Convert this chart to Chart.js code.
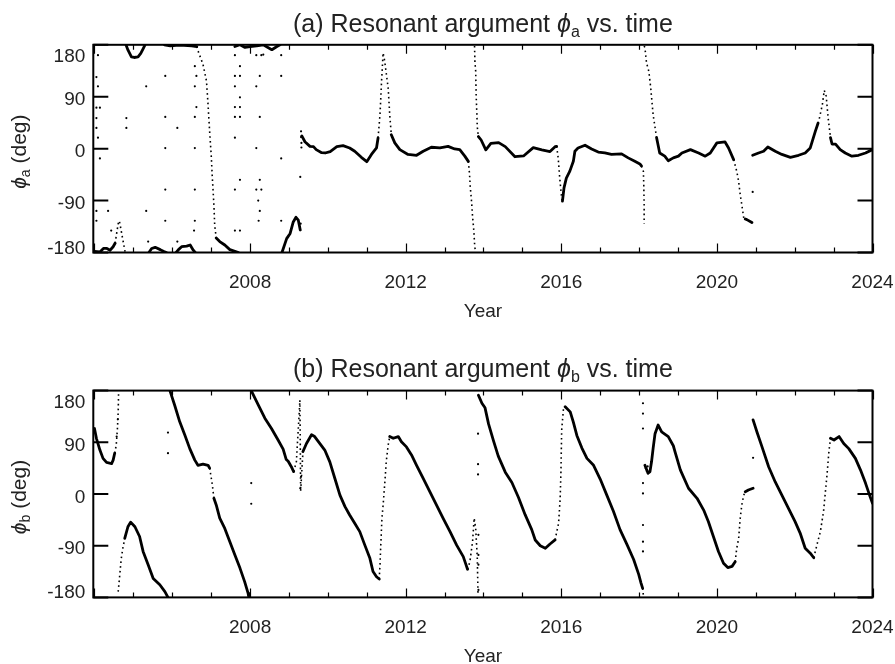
<!DOCTYPE html>
<html>
<head>
<meta charset="utf-8">
<script src="https://cdn.jsdelivr.net/npm/chart.js@4.4.1/dist/chart.umd.min.js"></script>
<style>
  html, body { margin: 0; padding: 0; background: #fff; }
  canvas { display: block; }
</style>
</head>
<body>
<canvas id="chartA" width="895" height="332"></canvas>
<canvas id="chartB" width="895" height="332"></canvas>
<script>
// axis ticks
const xTickLabels = [2008, 2012, 2016, 2020, 2024];
const yTickLabels = [-180, -90, 0, 90, 180];

// panel (a): slow parts of the track, [year, deg]
const aTrack = [
  [[2004.0,-178],[2004.14,-179],[2004.23,-173],[2004.32,-173],[2004.40,-176],[2004.48,-170],[2004.53,-164]],
  [[2004.81,180],[2004.86,171],[2004.95,159],[2005.02,158],[2005.12,159],[2005.19,165],[2005.25,173],[2005.30,180]],
  [[2005.40,-180],[2005.47,-173],[2005.56,-171],[2005.69,-175],[2005.77,-178],[2005.85,-180]],
  [[2005.80,180],[2005.95,178],[2006.10,179],[2006.30,179],[2006.50,178],[2006.63,177]],
  [[2006.10,-180],[2006.16,-175],[2006.24,-170],[2006.37,-169],[2006.46,-167],[2006.54,-176],[2006.59,-180]],
  [[2007.13,-155],[2007.22,-161],[2007.35,-167],[2007.48,-175],[2007.61,-178],[2007.70,-180]],
  [[2007.61,177],[2007.74,180],[2007.87,175.5],[2008.0,177],[2008.17,178],[2008.34,180],[2008.47,175],[2008.56,171.5],[2008.69,177],[2008.77,180]],
  [[2008.82,-180],[2008.94,-156],[2009.03,-147],[2009.11,-127],[2009.18,-119],[2009.24,-124],[2009.29,-141]],
  [[2009.33,22],[2009.41,12],[2009.54,4],[2009.63,3.5],[2009.70,-1.7],[2009.84,-7],[2009.93,-7.5],[2010.06,-5],[2010.23,3.5],[2010.39,5.2],[2010.56,1.2],[2010.69,-4.5],[2010.86,-15],[2011.00,-22.6],[2011.12,-10],[2011.25,1.2],[2011.29,18.6]],
  [[2011.63,24],[2011.72,10],[2011.85,-1.7],[2012.06,-10],[2012.28,-11.5],[2012.45,-4.5],[2012.66,2.4],[2012.88,1.2],[2013.09,4],[2013.26,-0.5],[2013.39,-1.7],[2013.52,-13],[2013.61,-22]],
  [[2013.87,21],[2013.94,15],[2014.06,-2],[2014.19,9],[2014.39,10.4],[2014.56,3.5],[2014.81,-14],[2015.03,-12.7],[2015.28,1.7],[2015.50,-2],[2015.71,-5],[2015.84,3.5],[2015.88,4]],
  [[2016.03,-91],[2016.07,-68],[2016.13,-51],[2016.22,-39],[2016.31,-22],[2016.35,-4.5],[2016.43,1],[2016.61,6],[2016.78,-0.5],[2016.95,-6],[2017.12,-7.5],[2017.29,-10],[2017.55,-9],[2017.72,-16],[2017.89,-22],[2018.02,-26.5],[2018.06,-30]],
  [[2018.45,19],[2018.53,-7.5],[2018.66,-13],[2018.75,-21],[2018.88,-16],[2019.01,-13],[2019.10,-7.5],[2019.32,-1.7],[2019.53,-7.5],[2019.70,-13],[2019.83,-7.5],[2020.00,10],[2020.21,11.6],[2020.30,1.2],[2020.43,-19]],
  [[2020.73,-122],[2020.77,-123],[2020.90,-128]],
  [[2020.92,-11.5],[2021.07,-7.5],[2021.20,-4.5],[2021.31,3],[2021.50,-4.5],[2021.67,-10],[2021.89,-15],[2022.10,-11.5],[2022.27,-7.5],[2022.40,1.2],[2022.53,30],[2022.60,44]],
  [[2022.92,19],[2022.96,8],[2023.05,8],[2023.17,-1.7],[2023.30,-7.5],[2023.47,-13],[2023.64,-11.5],[2023.82,-7.5],[2024.0,-1.7]]
];

// panel (a): fast, sparsely sampled swings
const aSwing = [
  [[2004.53,-164],[2004.57,-147],[2004.61,-130],[2004.64,-125],[2004.70,-147],[2004.79,-180]],
  [[2006.63,177],[2006.66,170],[2006.79,146],[2006.88,117],[2006.92,76],[2006.96,30],[2007.00,-10],[2007.03,-51],[2007.07,-97],[2007.09,-132],[2007.13,-155]],
  [[2011.29,18.6],[2011.34,59],[2011.38,117],[2011.42,166],[2011.46,152],[2011.55,105],[2011.59,59],[2011.63,24]],
  [[2013.61,-22],[2013.64,-43],[2013.66,-66],[2013.69,-89],[2013.72,-118],[2013.75,-141],[2013.77,-164],[2013.79,-178]],
  [[2013.77,178],[2013.78,150],[2013.80,134],[2013.81,96],[2013.83,60],[2013.84,38],[2013.87,21]],
  [[2015.88,4],[2015.92,-16],[2015.96,-51],[2016.01,-86],[2016.03,-91]],
  [[2018.06,-30],[2018.11,-39],[2018.12,-62],[2018.13,-97],[2018.13,-130]],
  [[2018.13,178],[2018.15,175],[2018.19,149],[2018.25,134],[2018.30,105],[2018.36,59],[2018.45,19]],
  [[2020.43,-19],[2020.51,-39],[2020.56,-57],[2020.60,-80],[2020.64,-97],[2020.69,-120],[2020.73,-122]],
  [[2022.60,44],[2022.62,48],[2022.71,76],[2022.76,101],[2022.81,91],[2022.86,53],[2022.92,19]]
];

// panel (a): isolated points
const aStray = [
  [2004.09,162],[2004.05,124],[2004.09,108],[2004.05,71],[2004.14,71],[2004.05,53],[2004.05,36],[2004.09,19],
  [2004.14,-17],[2004.05,-108],[2004.35,-108],[2004.05,-125],[2004.43,-142],[2004.82,53],[2004.82,36],
  [2005.33,108],[2005.33,-108],[2005.38,-161],[2005.82,126],[2005.82,55],[2005.82,1],[2005.82,-71],[2005.82,-125],
  [2006.13,36],[2006.13,-161],[2006.58,143],[2006.62,126],[2006.58,108],[2006.62,72],[2006.58,55],[2006.58,1],
  [2006.58,-71],[2006.58,-125],[2006.56,-142],[2007.61,162],[2007.74,143],[2007.61,126],[2007.74,126],[2007.61,108],
  [2007.74,89],[2007.61,72],[2007.74,72],[2007.61,55],[2007.74,55],[2007.61,19],[2007.74,-54],[2007.61,-71],
  [2007.61,-142],[2007.74,-142],[2008.16,162],[2008.29,162],[2008.34,163],[2008.25,126],[2008.16,108],[2008.25,55],
  [2008.16,1],[2008.25,-54],[2008.16,-71],[2008.29,-71],[2008.21,-90],[2008.25,-108],[2008.22,-125],[2008.80,162],
  [2008.80,126],[2008.80,-17],[2008.80,-125],[2009.29,-49],[2009.31,30],[2009.31,20],[2009.32,10],[2009.32,2],
  [2009.30,-130],[2020.92,-75]
];

// panel (b): slow parts of the track
const bTrack = [
  [[2004.0,114],[2004.05,97],[2004.14,76.5],[2004.22,62],[2004.31,55],[2004.44,53],[2004.48,59],[2004.52,71]],
  [[2004.78,-77],[2004.86,-57],[2004.93,-49],[2005.04,-57],[2005.16,-74],[2005.25,-100],[2005.38,-123],[2005.51,-147],[2005.68,-158],[2005.81,-170],[2005.89,-180]],
  [[2005.94,180],[2006.06,155],[2006.19,126],[2006.32,103],[2006.45,79],[2006.58,59],[2006.66,50],[2006.79,52],[2006.92,50],[2006.96,45]],
  [[2007.07,-7.5],[2007.13,-19],[2007.22,-42],[2007.35,-60],[2007.48,-83],[2007.61,-106],[2007.74,-129],[2007.86,-152.5],[2007.95,-173],[2007.97,-180]],
  [[2008.03,180],[2008.21,155],[2008.38,132],[2008.55,114],[2008.72,94],[2008.85,78],[2008.93,60],[2008.98,57],[2009.06,47.5],[2009.12,39]],
  [[2009.36,74],[2009.45,88],[2009.58,103],[2009.66,100],[2009.79,88],[2009.92,76.5],[2010.05,56],[2010.18,27],[2010.31,-2],[2010.44,-22],[2010.56,-36.5],[2010.69,-51],[2010.82,-65.5],[2010.95,-89],[2011.08,-112],[2011.16,-135],[2011.25,-144],[2011.32,-148]],
  [[2011.59,100],[2011.68,97],[2011.81,100],[2011.89,91],[2012.02,82],[2012.15,68],[2012.28,50],[2012.45,27],[2012.62,4],[2012.79,-19],[2012.96,-42],[2013.14,-65.5],[2013.31,-89],[2013.48,-109],[2013.55,-123],[2013.59,-131]],
  [[2013.87,172],[2013.96,158],[2014.04,150],[2014.13,122],[2014.26,92],[2014.38,66],[2014.56,38],[2014.73,20],[2014.90,-6],[2015.07,-36],[2015.24,-62],[2015.33,-80],[2015.46,-90],[2015.59,-94.5],[2015.71,-87],[2015.84,-80]],
  [[2016.10,152],[2016.23,143],[2016.31,125],[2016.40,102],[2016.53,80],[2016.66,62],[2016.83,50],[2017.00,26],[2017.17,-2],[2017.34,-30],[2017.51,-62],[2017.69,-88],[2017.86,-114],[2017.99,-140],[2018.05,-155],[2018.09,-164]],
  [[2018.15,50],[2018.23,36],[2018.28,39],[2018.32,56],[2018.36,79],[2018.41,105],[2018.49,120],[2018.58,108],[2018.75,100],[2018.88,84],[2018.93,72],[2019.06,42],[2019.27,10],[2019.49,-7.5],[2019.66,-28],[2019.78,-48],[2019.91,-74],[2020.04,-100],[2020.17,-120.5],[2020.28,-128],[2020.39,-126],[2020.47,-118]],
  [[2020.73,4],[2020.81,7],[2020.93,10]],
  [[2020.93,129],[2021.03,108],[2021.16,82],[2021.33,47.5],[2021.50,21],[2021.67,-2],[2021.84,-25],[2022.01,-48],[2022.14,-68],[2022.27,-94.5],[2022.40,-103],[2022.49,-111]],
  [[2022.92,97],[2023.01,94],[2023.14,100],[2023.26,88],[2023.39,79],[2023.56,62],[2023.69,42],[2023.82,19],[2023.94,-5],[2024.0,-16]]
];

// panel (b): fast swings
const bSwing = [
  [[2004.52,71],[2004.56,85],[2004.59,114],[2004.61,143],[2004.62,178]],
  [[2004.61,-170],[2004.65,-141],[2004.69,-112],[2004.73,-94],[2004.78,-77]],
  [[2006.96,45],[2006.99,33],[2007.03,16],[2007.07,-7.5]],
  [[2009.12,39],[2009.19,56],[2009.23,103],[2009.26,137],[2009.28,163]],
  [[2009.28,163],[2009.29,90],[2009.30,5],[2009.33,40],[2009.36,74]],
  [[2011.32,-148],[2011.34,-123],[2011.36,-89],[2011.39,-42],[2011.42,-19],[2011.46,16],[2011.50,56],[2011.55,85],[2011.59,100]],
  [[2013.59,-131],[2013.65,-118],[2013.72,-83],[2013.76,-42],[2013.80,-60],[2013.84,-110],[2013.86,-176]],
  [[2015.84,-80],[2015.93,-51],[2015.97,-10],[2015.99,36],[2016.01,111],[2016.06,152],[2016.10,152]],
  [[2018.09,-164],[2018.11,-176]],
  [[2020.47,-118],[2020.51,-94.5],[2020.56,-77],[2020.60,-42],[2020.64,-19],[2020.69,-2],[2020.73,4]],
  [[2022.49,-111],[2022.57,-89],[2022.66,-65.5],[2022.74,-31],[2022.79,4],[2022.83,33],[2022.88,74],[2022.92,97]]
];

// panel (b): isolated points
const bStray = [
  [2004.57,100],[2004.60,130],[2005.89,107],[2005.89,71],[2008.03,19],[2008.03,-17],[2009.29,10],[2009.31,30],
  [2013.86,105],[2013.86,52],[2013.86,34],[2013.87,-71],[2013.87,-106],[2013.87,-123],[2013.87,-167],
  [2018.10,158],[2018.10,140],[2018.10,114],[2018.10,19],[2018.10,1],[2018.10,-54],[2018.10,-83],[2018.10,-100],
  [2018.17,45],[2018.20,40],[2018.22,48],[2020.93,63]
];

function toPoints(segments) {
  const pts = [];
  segments.forEach((seg, i) => {
    if (i > 0) pts.push({ x: seg[0][0], y: null });
    seg.forEach(p => pts.push({ x: p[0], y: p[1] }));
  });
  return pts;
}

const FONT = "'Liberation Sans', Arial, Helvetica, sans-serif";
const TEXT = "#222";

// draws a run of text pieces (for the subscripts), centred on x
function drawPieces(ctx, pieces, x, y) {
  let w = 0;
  pieces.forEach(p => { ctx.font = p.font; w += ctx.measureText(p.text).width; });
  let cx = x - w / 2;
  pieces.forEach(p => {
    ctx.font = p.font;
    ctx.fillText(p.text, cx, y + (p.dy || 0));
    cx += ctx.measureText(p.text).width;
  });
}

function framePlugin(letter, lay) {
  return {
    id: "frame" + letter,
    afterDraw(chart) {
      const ctx = chart.ctx;
      const a = chart.chartArea;
      const xs = chart.scales.x, ys = chart.scales.y;
      ctx.save();
      ctx.strokeStyle = "#000";

      // inward ticks
      ctx.lineWidth = 1.2;
      ctx.beginPath();
      for (let yr = 2004; yr <= 2024; yr++) {
        const px = Math.round(xs.getPixelForValue(yr)) + 0.5;
        const len = yr % 4 === 0 ? 9 : 5;
        ctx.moveTo(px, a.bottom); ctx.lineTo(px, a.bottom - len);
        ctx.moveTo(px, a.top); ctx.lineTo(px, a.top + len);
      }
      ctx.stroke();
      ctx.lineWidth = 2;
      ctx.beginPath();
      yTickLabels.forEach(v => {
        const py = ys.getPixelForValue(v);
        ctx.moveTo(a.left, py); ctx.lineTo(a.left + 15, py);
        ctx.moveTo(a.right, py); ctx.lineTo(a.right - 15, py);
      });
      ctx.stroke();
      ctx.strokeRect(a.left, a.top, a.right - a.left, a.bottom - a.top);

      ctx.fillStyle = TEXT;
      ctx.textBaseline = "alphabetic";

      // tick labels
      ctx.font = "19px " + FONT;
      ctx.textAlign = "center";
      xTickLabels.forEach(v => {
        ctx.fillText(String(v), xs.getPixelForValue(v), a.bottom + 35.5);
      });
      ctx.textAlign = "right";
      yTickLabels.forEach(v => {
        let by = ys.getPixelForValue(v) + 8.5;
        if (v === 180) by = a.top + 17;
        if (v === -180) by = a.bottom + 1;
        ctx.fillText(String(v), a.left - 8, by);
      });

      ctx.textAlign = "left";
      const mid = (a.left + a.right) / 2;
      // x title
      ctx.font = "19px " + FONT;
      const yw = ctx.measureText("Year").width;
      ctx.fillText("Year", mid - yw / 2, a.bottom + 64.3);

      // panel title
      drawPieces(ctx, [
        { text: "(" + letter + ") Resonant argument ", font: "25px " + FONT },
        { text: "\u03D5", font: "italic 25px " + FONT },
        { text: letter, font: "16px " + FONT, dy: 5 },
        { text: " vs. time", font: "25px " + FONT }
      ], mid, lay.titleY);

      // y title, rotated
      ctx.translate(26, ys.getPixelForValue(0) + 3);
      ctx.rotate(-Math.PI / 2);
      drawPieces(ctx, [
        { text: "\u03D5", font: "italic 21px " + FONT },
        { text: letter, font: "14px " + FONT, dy: 4 },
        { text: " (deg)", font: "21px " + FONT }
      ], 0, 0);
      ctx.restore();
    }
  };
}

function makeChart(id, letter, track, swing, stray, lay) {
  return new Chart(document.getElementById(id), {
    type: "scatter",
    data: {
      datasets: [
        {
          data: toPoints(track),
          showLine: true,
          borderColor: "#000",
          borderWidth: 2.8,
          borderJoinStyle: "round",
          borderCapStyle: "round",
          pointRadius: 0,
          spanGaps: false
        },
        {
          data: toPoints(swing),
          showLine: true,
          borderColor: "#000",
          borderWidth: 1.6,
          borderDash: [1.6, 3.2],
          pointRadius: 0,
          spanGaps: false
        },
        {
          data: stray.map(p => ({ x: p[0], y: p[1] })),
          showLine: false,
          pointRadius: 1.1,
          pointBorderWidth: 0,
          backgroundColor: "#000"
        }
      ]
    },
    options: {
      responsive: false,
      animation: false,
      devicePixelRatio: 1,
      events: [],
      layout: { padding: lay.padding },
      plugins: { legend: { display: false }, tooltip: { enabled: false } },
      scales: {
        x: { type: "linear", display: false, min: 2003.97, max: 2024.0 },
        y: { type: "linear", display: false, min: -180, max: 180 }
      }
    },
    plugins: [framePlugin(letter, lay)]
  });
}

makeChart("chartA", "a", aTrack, aSwing, aStray, {
  padding: { left: 93.3, right: 22.5, top: 44.8, bottom: 79.5 },
  titleY: 32
});
makeChart("chartB", "b", bTrack, bSwing, bStray, {
  padding: { left: 93.3, right: 22.5, top: 58.6, bottom: 66.6 },
  titleY: 44.7
});
</script>
</body>
</html>
